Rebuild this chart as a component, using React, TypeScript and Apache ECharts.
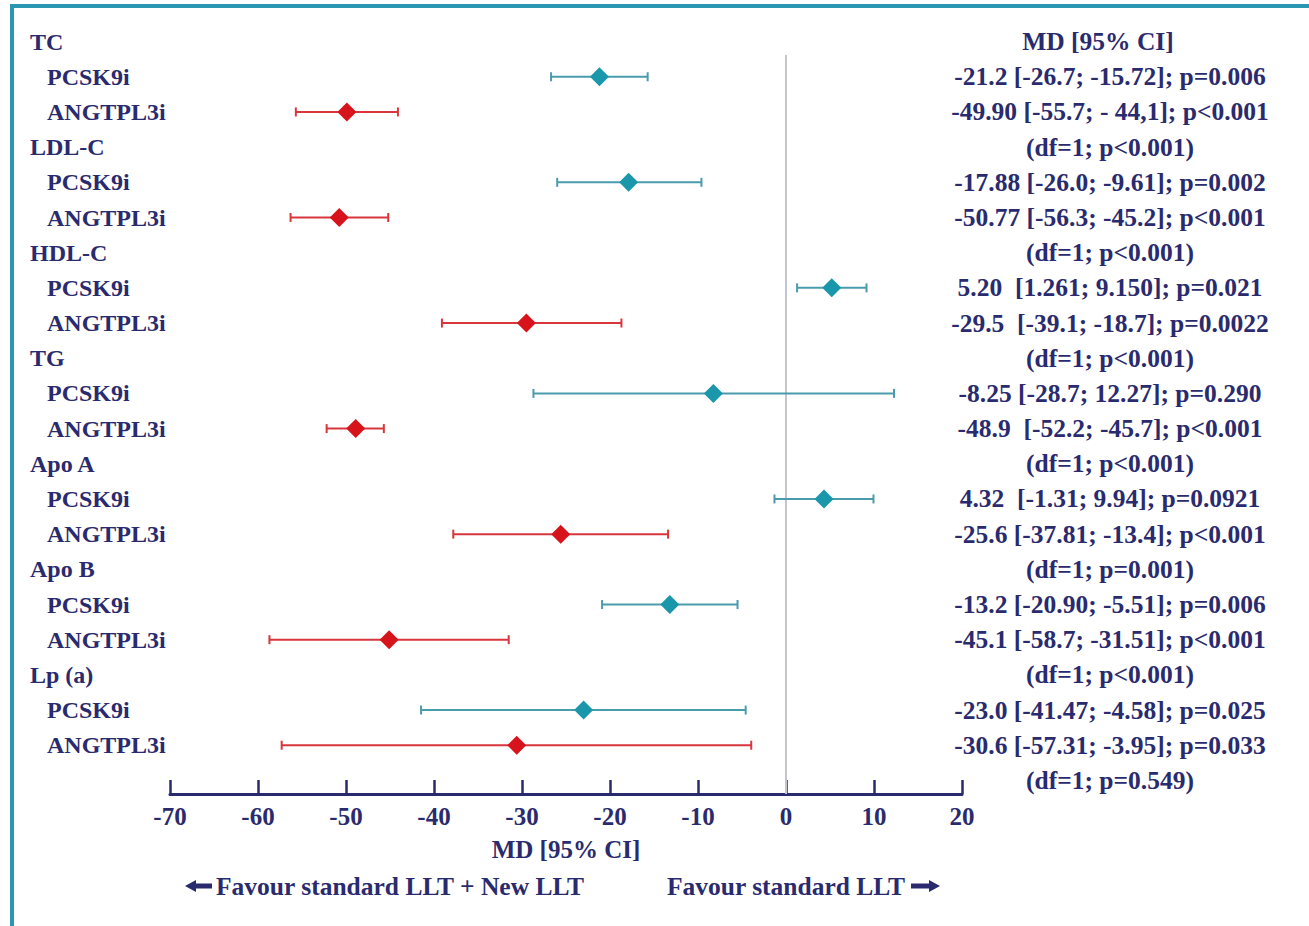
import React, { useEffect, useRef } from "react";
import * as echarts from "echarts";

const groups = ["TC", "LDL-C", "HDL-C", "TG", "Apo A", "Apo B", "Lp (a)"];
const drugs = ["PCSK9i", "ANGTPL3i"];

const pcskMd = [-21.2, -17.88, 5.2, -8.25, 4.32, -13.2, -23.0];
const pcskLo = [-26.7, -26.0, 1.261, -28.7, -1.31, -20.9, -41.47];
const pcskHi = [-15.72, -9.61, 9.15, 12.27, 9.94, -5.51, -4.58];

const angMd = [-49.9, -50.77, -29.5, -48.9, -25.6, -45.1, -30.6];
const angLo = [-55.7, -56.3, -39.1, -52.2, -37.81, -58.7, -57.31];
const angHi = [-44.1, -45.2, -18.7, -45.7, -13.4, -31.51, -3.95];

const pcskText = [
  "-21.2 [-26.7; -15.72]; p=0.006",
  "-17.88 [-26.0; -9.61]; p=0.002",
  "5.20  [1.261; 9.150]; p=0.021",
  "-8.25 [-28.7; 12.27]; p=0.290",
  "4.32  [-1.31; 9.94]; p=0.0921",
  "-13.2 [-20.90; -5.51]; p=0.006",
  "-23.0 [-41.47; -4.58]; p=0.025",
];
const angText = [
  "-49.90 [-55.7; - 44,1]; p<0.001",
  "-50.77 [-56.3; -45.2]; p<0.001",
  "-29.5  [-39.1; -18.7]; p=0.0022",
  "-48.9  [-52.2; -45.7]; p<0.001",
  "-25.6 [-37.81; -13.4]; p<0.001",
  "-45.1 [-58.7; -31.51]; p<0.001",
  "-30.6 [-57.31; -3.95]; p=0.033",
];
const hetText = [
  "(df=1; p<0.001)",
  "(df=1; p<0.001)",
  "(df=1; p<0.001)",
  "(df=1; p<0.001)",
  "(df=1; p=0.001)",
  "(df=1; p<0.001)",
  "(df=1; p=0.549)",
];

const xTicks = { min: -70, max: 20, interval: 10 };
const headerText = "MD [95% CI]";
const axisName = "MD [95% CI]";
const favourLeft = "Favour standard LLT + New LLT";
const favourRight = "Favour standard LLT";

const NAVY = "#2a2b6e";
const TEAL = "#1a97aa";
const TEAL_LINE = "#4a9cad";
const RED = "#d7141c";
const RED_LINE = "#d8363c";
const FONT = "'Liberation Serif', 'Times New Roman', serif";

const nRows = groups.length * 3 + 1;
const rowKeys = Array.from({ length: nRows }, (_, i) => String(i));
const leftLabels: string[] = [];
const leftKinds: string[] = [];
const rightLabels: string[] = [];
const rightKinds: string[] = [];
groups.forEach((g) => {
  leftLabels.push(g, drugs[0], drugs[1]);
  leftKinds.push("h", "s", "s");
});
leftLabels.push("");
leftKinds.push("h");
rightLabels.push(headerText);
rightKinds.push("hd");
groups.forEach((_, gi) => {
  rightLabels.push(pcskText[gi], angText[gi], hetText[gi]);
  rightKinds.push("t", "t", "t");
});

const pcskBars = groups.map((_, gi) => [pcskLo[gi], gi * 3 + 1, pcskHi[gi]]);
const angBars = groups.map((_, gi) => [angLo[gi], gi * 3 + 2, angHi[gi]]);
const pcskPts = groups.map((_, gi) => [pcskMd[gi], gi * 3 + 1]);
const angPts = groups.map((_, gi) => [angMd[gi], gi * 3 + 2]);

function whiskerRenderer(color: string) {
  return (params: any, api: any) => {
    const y = api.value(1);
    const a = api.coord([api.value(0), y]);
    const b = api.coord([api.value(2), y]);
    const cap = 4.5;
    const st = { stroke: color, lineWidth: 2 };
    return {
      type: "group",
      children: [
        { type: "line", shape: { x1: a[0], y1: a[1], x2: b[0], y2: b[1] }, style: st },
        { type: "line", shape: { x1: a[0], y1: a[1] - cap, x2: a[0], y2: a[1] + cap }, style: st },
        { type: "line", shape: { x1: b[0], y1: b[1] - cap, x2: b[0], y2: b[1] + cap }, style: st },
      ],
    };
  };
}

const txt = (size: number) => ({
  fontFamily: FONT,
  fontWeight: "bold" as const,
  fontSize: size,
  color: NAVY,
});

export default function App() {
  const ref = useRef<HTMLDivElement>(null);
  useEffect(() => {
    if (!ref.current) return;
    const chart = echarts.init(ref.current, null, { renderer: "svg" });
    chart.setOption({
      animation: false,
      backgroundColor: "#ffffff",
      grid: { left: 170, right: 347, top: 24, height: 774 },
      xAxis: {
        type: "value",
        min: xTicks.min,
        max: xTicks.max,
        interval: xTicks.interval,
        offset: -4,
        splitLine: { show: false },
        axisLine: { show: true, lineStyle: { color: NAVY, width: 3 } },
        axisTick: { show: true, inside: true, length: 14, lineStyle: { color: NAVY, width: 2.5 } },
        axisLabel: { ...txt(25), margin: 10 },
        name: axisName,
        nameLocation: "middle",
        nameGap: 43,
        nameTextStyle: { ...txt(25) },
      },
      yAxis: [
        {
          type: "category",
          data: rowKeys,
          inverse: true,
          position: "left",
          axisLine: { show: false },
          axisTick: { show: false },
          splitLine: { show: false },
          axisLabel: {
            align: "left",
            margin: 140,
            formatter: (_v: string, i: number) =>
              leftLabels[i] ? `{${leftKinds[i]}|${leftLabels[i]}}` : "",
            rich: {
              h: { ...txt(24) },
              s: { ...txt(24), padding: [0, 0, 0, 17] },
            },
          },
        },
        {
          type: "category",
          data: rowKeys,
          inverse: true,
          position: "right",
          axisLine: { show: false },
          axisTick: { show: false },
          splitLine: { show: false },
          axisLabel: {
            align: "center",
            margin: 148,
            formatter: (_v: string, i: number) =>
              rightLabels[i] ? `{${rightKinds[i]}|${rightLabels[i]}}` : "",
            rich: {
              hd: { ...txt(25.5), padding: [0, 24, 0, 0] },
              t: { ...txt(25.5) },
            },
          },
        },
      ],
      series: [
        {
          type: "custom",
          name: "zero",
          yAxisIndex: 0,
          silent: true,
          z: 1,
          data: [[0, 0]],
          renderItem: (params: any, api: any) => {
            const p = api.coord([api.value(0), api.value(1)]);
            const cs = params.coordSys;
            return {
              type: "line",
              shape: { x1: p[0], y1: cs.y + 31, x2: p[0], y2: cs.y + cs.height - 4 },
              style: { stroke: "#c3c5d2", lineWidth: 2 },
            };
          },
        },
        {
          type: "custom",
          name: "PCSK9i CI",
          yAxisIndex: 0,
          z: 2,
          data: pcskBars,
          renderItem: whiskerRenderer(TEAL_LINE),
        },
        {
          type: "custom",
          name: "ANGTPL3i CI",
          yAxisIndex: 0,
          z: 2,
          data: angBars,
          renderItem: whiskerRenderer(RED_LINE),
        },
        {
          type: "scatter",
          name: "PCSK9i",
          yAxisIndex: 0,
          z: 3,
          symbol: "diamond",
          symbolSize: 19,
          itemStyle: { color: TEAL, opacity: 1 },
          data: pcskPts,
        },
        {
          type: "scatter",
          name: "ANGTPL3i",
          yAxisIndex: 0,
          z: 3,
          symbol: "diamond",
          symbolSize: 19,
          itemStyle: { color: RED, opacity: 1 },
          data: angPts,
        },
      ],
      graphic: [
        {
          type: "rect",
          silent: true,
          shape: { x: 12, y: 6, width: 1330, height: 960 },
          style: { fill: "none", stroke: "#2b96b2", lineWidth: 4 },
        },
        {
          type: "polygon",
          silent: true,
          shape: {
            points: [
              [185, 886], [196, 880], [196, 883.5], [212, 883.5],
              [212, 888.5], [196, 888.5], [196, 892],
            ],
          },
          style: { fill: NAVY },
        },
        {
          type: "text",
          x: 216,
          y: 886,
          style: { text: favourLeft, ...txt(25.5), fill: NAVY, textAlign: "left", textVerticalAlign: "middle" },
        },
        {
          type: "text",
          x: 905,
          y: 886,
          style: { text: favourRight, ...txt(25.5), fill: NAVY, textAlign: "right", textVerticalAlign: "middle" },
        },
        {
          type: "polygon",
          silent: true,
          shape: {
            points: [
              [940, 886], [929, 880], [929, 883.5], [911, 883.5],
              [911, 888.5], [929, 888.5], [929, 892],
            ],
          },
          style: { fill: NAVY },
        },
      ],
    });
    return () => chart.dispose();
  }, []);
  return (
    <div
      ref={ref}
      style={{ position: "fixed", left: 0, top: 0, width: 1309, height: 926, background: "#fff" }}
    />
  );
}
